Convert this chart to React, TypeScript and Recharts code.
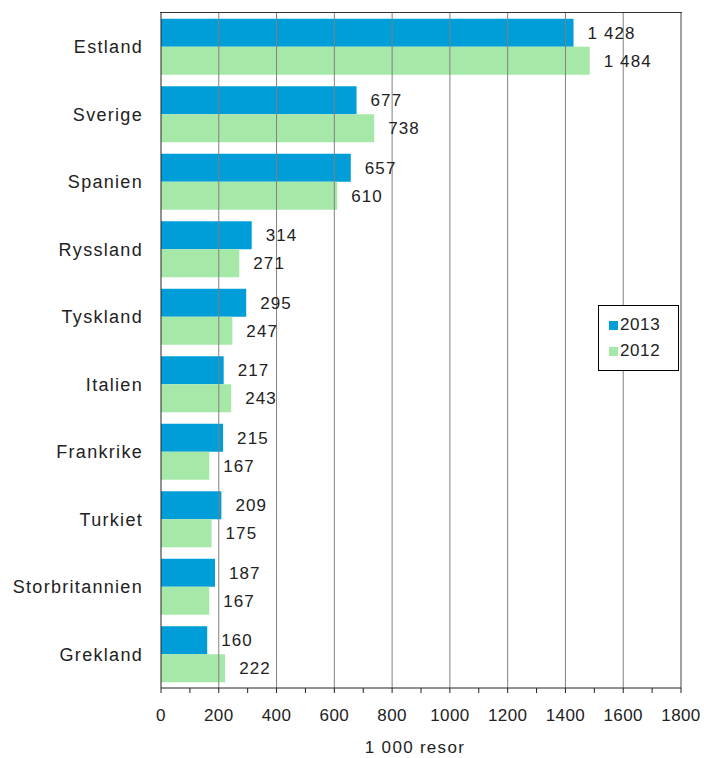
import React from "react";
import {
  BarChart,
  Bar,
  XAxis,
  YAxis,
  ReferenceLine,
  LabelList,
} from "recharts";

const countries = [
  "Estland",
  "Sverige",
  "Spanien",
  "Ryssland",
  "Tyskland",
  "Italien",
  "Frankrike",
  "Turkiet",
  "Storbritannien",
  "Grekland",
];
const values2013 = [1428, 677, 657, 314, 295, 217, 215, 209, 187, 160];
const values2012 = [1484, 738, 610, 271, 247, 243, 167, 175, 167, 222];
const xTicks = [0, 100, 200, 300, 400, 500, 600, 700, 800, 900, 1000, 1100, 1200, 1300, 1400, 1500, 1600, 1700, 1800];
const gridTicks = [200, 400, 600, 800, 1000, 1200, 1400, 1600];
const seriesNames = ["2013", "2012"];
const xAxisTitle = "1 000 resor";

const data = countries.map((c, i) => ({
  name: c,
  v2013: values2013[i],
  v2012: values2012[i],
}));

const COLOR_2013 = "#009ED8";
const COLOR_2012 = "#A6E8A8";
const FONT = "'Liberation Sans', Arial, sans-serif";

const fmt = (v: any) =>
  String(v).replace(/\B(?=(\d{3})+(?!\d))/g, " ");

const css = `
.recharts-label-list .recharts-label { letter-spacing: 1.1px; }
`;

const YTick = (props: any) => {
  const { x, y, payload } = props;
  return (
    <text
      x={x}
      y={y}
      dy="0.36em"
      textAnchor="end"
      fill="#222"
      fontSize={18}
      fontFamily={FONT}
      style={{ letterSpacing: "1.3px" }}
    >
      {payload.value}
    </text>
  );
};

const XTick = (props: any) => {
  const { x, y, payload } = props;
  if (payload.value % 200 !== 0) return null;
  return (
    <text
      x={x}
      y={y}
      dy="0.75em"
      textAnchor="middle"
      fill="#222"
      fontSize={17}
      fontFamily={FONT}
      style={{ letterSpacing: "0.4px" }}
    >
      {payload.value}
    </text>
  );
};

const XTitle = (props: any) => {
  const { viewBox } = props;
  const cx = viewBox.x + viewBox.width / 2 - 6;
  return (
    <text
      x={cx}
      y={viewBox.y + viewBox.height - 5}
      textAnchor="middle"
      fill="#222"
      fontSize={17}
      fontFamily={FONT}
      style={{ letterSpacing: "1.3px" }}
    >
      {xAxisTitle}
    </text>
  );
};

const LegendBox = () => (
  <div
    style={{
      position: "absolute",
      left: 598,
      top: 305,
      boxSizing: "border-box",
      width: 81,
      height: 66,
      border: "1px solid #000",
      background: "#fff",
      padding: "6px 0 0 10px",
      fontFamily: FONT,
      fontSize: 17,
      letterSpacing: "0.6px",
      color: "#222",
    }}
  >
    {[COLOR_2013, COLOR_2012].map((col, i) => (
      <div
        key={i}
        style={{
          display: "flex",
          alignItems: "center",
          height: 26,
        }}
      >
        <span
          style={{
            display: "inline-block",
            width: 9,
            height: 9,
            background: col,
            marginRight: 2,
          }}
        />
        <span>{seriesNames[i]}</span>
      </div>
    ))}
  </div>
);

export default function App() {
  return (
    <div style={{ position: "absolute", left: 0, top: 0, width: 704, height: 758, background: "#fff" }}>
      <style>{css}</style>
      <BarChart
        width={704}
        height={758}
        data={data}
        layout="vertical"
        margin={{ top: 13, right: 23, left: 0, bottom: 0 }}
        barCategoryGap="8.5%"
        barGap={0}
      >
        {gridTicks.map((t) => (
          <ReferenceLine key={t} x={t} stroke="#808080" strokeWidth={1} />
        ))}
        <ReferenceLine x={1800} stroke="#444" strokeWidth={1} />
        <XAxis
          type="number"
          domain={[0, 1800]}
          ticks={xTicks}
          interval={0}
          height={70}
          tickSize={5}
          tickMargin={15}
          stroke="#222"
          tick={<XTick />}
          label={<XTitle />}
        />
        <YAxis
          type="category"
          dataKey="name"
          width={161}
          tickLine={false}
          tickMargin={12}
          stroke="#222"
          tick={<YTick />}
        />
        <Bar dataKey="v2013" name="2013" fill={COLOR_2013} isAnimationActive={false}>
          <LabelList
            dataKey="v2013"
            position="right"
            offset={14}
            formatter={fmt}
            style={{ fill: "#222", fontSize: 17, fontFamily: FONT }}
          />
        </Bar>
        <Bar dataKey="v2012" name="2012" fill={COLOR_2012} isAnimationActive={false}>
          <LabelList
            dataKey="v2012"
            position="right"
            offset={14}
            formatter={fmt}
            style={{ fill: "#222", fontSize: 17, fontFamily: FONT }}
          />
        </Bar>
      </BarChart>
      <div
        style={{
          position: "absolute",
          left: 160,
          top: 12,
          width: 522,
          height: 1,
          background: "#333",
        }}
      />
      <LegendBox />
    </div>
  );
}
